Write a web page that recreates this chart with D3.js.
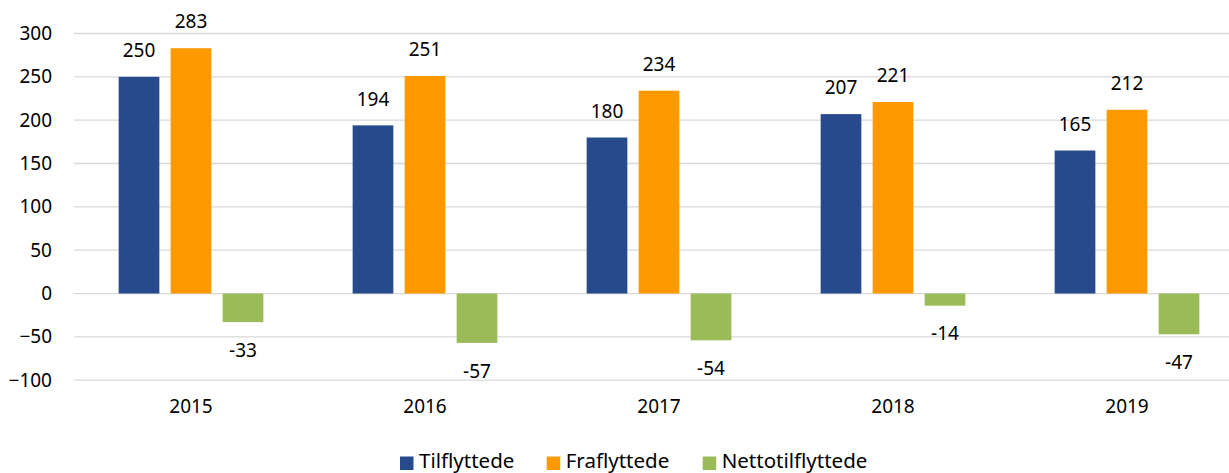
<!DOCTYPE html>
<html>
<head>
<meta charset="utf-8">
<script src="https://cdn.jsdelivr.net/npm/d3@7"></script>
<style>
  html, body { margin: 0; padding: 0; background: #fff; }
  svg { display: block; font-family: "Noto Sans", "Open Sans", sans-serif; }
</style>
</head>
<body>
<svg id="chart" width="1229" height="473"></svg>
<script>
// Population moves per year
const years = ["2015", "2016", "2017", "2018", "2019"];
const seriesNames = ["Tilflyttede", "Fraflyttede", "Nettotilflyttede"];
const tilflyttede = [250, 194, 180, 207, 165];
const fraflyttede = [283, 251, 234, 221, 212];
const nettotilflyttede = [-33, -57, -54, -14, -47];
const yTicks = [-100, -50, 0, 50, 100, 150, 200, 250, 300];
const colors = ["#264a8c", "#ff9900", "#9bbb59"];

const seriesValues = [tilflyttede, fraflyttede, nettotilflyttede];

const svg = d3.select("#chart");
const plotLeft = 74, plotRight = 1244;
const plotTop = 33.5, plotBottom = 380.2;

const x = d3.scaleBand().domain(years).range([plotLeft, plotRight]).paddingInner(0).paddingOuter(0);
const y = d3.scaleLinear().domain([-100, 300]).range([plotBottom, plotTop]);

// inner band for the three bars within each year
const barW = 40.7, barGap = 11.3;
const xs = d3.scaleBand().domain(seriesNames)
  .range([-(3 * barW + 2 * barGap) / 2, (3 * barW + 2 * barGap) / 2])
  .paddingInner(barGap / (barW + barGap)).paddingOuter(0);

// gridlines
svg.append("g")
  .selectAll("line")
  .data(yTicks)
  .join("line")
  .attr("x1", plotLeft).attr("x2", plotRight)
  .attr("y1", d => y(d)).attr("y2", d => y(d))
  .attr("stroke", "#d9d9d9").attr("stroke-width", 1.3);

// y axis labels
const yAxis = d3.axisLeft(y).tickValues(yTicks).tickSize(0).tickPadding(0).tickFormat(d3.format("d"));
const gy = svg.append("g").attr("transform", `translate(52,0)`).call(yAxis);
gy.select(".domain").remove();
gy.selectAll("text").attr("font-size", 19).attr("fill", "#000")
  .attr("font-family", "'Noto Sans', sans-serif");

// x axis labels
const xAxis = d3.axisBottom(x).tickSize(0).tickPadding(0);
const gx = svg.append("g").attr("transform", `translate(0,399)`).call(xAxis);
gx.select(".domain").remove();
gx.selectAll("text").attr("font-size", 19).attr("fill", "#000")
  .attr("font-family", "'Noto Sans', sans-serif");

// bars
const rows = [];
years.forEach((yr, i) => {
  seriesNames.forEach((s, j) => rows.push({ year: yr, series: s, j, value: seriesValues[j][i] }));
});

const groups = svg.append("g");
groups.selectAll("rect")
  .data(rows)
  .join("rect")
  .attr("x", d => x(d.year) + x.bandwidth() / 2 + xs(d.series))
  .attr("width", xs.bandwidth())
  .attr("y", d => y(Math.max(0, d.value)))
  .attr("height", d => Math.abs(y(d.value) - y(0)))
  .attr("fill", d => colors[d.j]);

// value labels
groups.selectAll("text")
  .data(rows)
  .join("text")
  .attr("x", d => x(d.year) + x.bandwidth() / 2 + xs(d.series) + xs.bandwidth() / 2)
  .attr("y", d => d.value >= 0 ? y(d.value) - 26.5 : y(d.value) + 28)
  .attr("dy", "0.35em")
  .attr("text-anchor", "middle")
  .attr("font-size", 19)
  .attr("fill", "#000")
  .text(d => d.value);

// legend
const legendItems = [
  { name: seriesNames[0], x: 400 },
  { name: seriesNames[1], x: 546.7 },
  { name: seriesNames[2], x: 702.7 }
];
const lg = svg.append("g");
legendItems.forEach((it, i) => {
  lg.append("rect").attr("x", it.x).attr("y", 456.5).attr("width", 13.5).attr("height", 13.5).attr("fill", colors[i]);
  lg.append("text").attr("x", it.x + 19).attr("y", 461).attr("dy", "0.35em")
    .attr("font-size", 20.5).attr("fill", "#000").text(it.name);
});
</script>
</body>
</html>
